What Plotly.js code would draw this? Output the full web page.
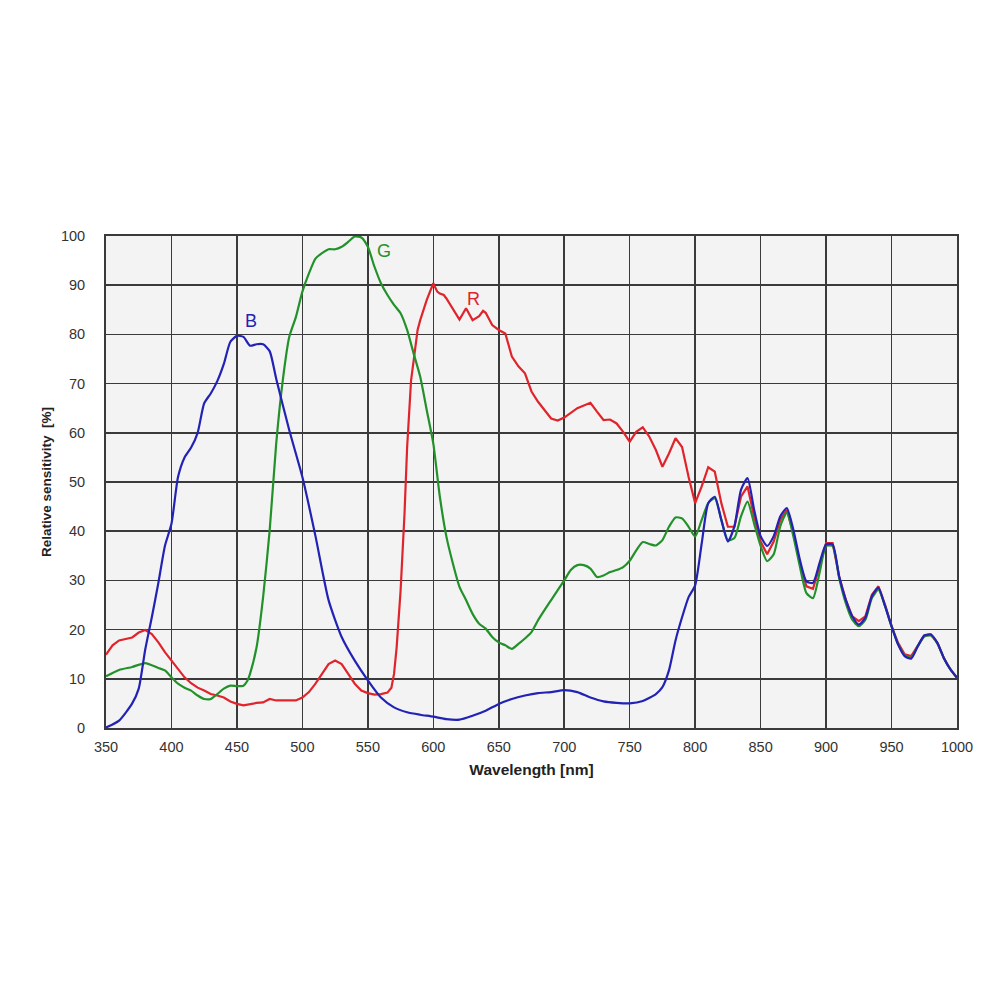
<!DOCTYPE html>
<html>
<head>
<meta charset="utf-8">
<script src="https://cdn.plot.ly/plotly-3.0.1.min.js"></script>
<style>
html, body { margin: 0; padding: 0; background: #ffffff; }
#chart { width: 1000px; height: 1000px; }
</style>
</head>
<body>
<div id="chart"></div>
<script>
// blue channel
var blueNm = [350, 360, 370, 375, 380, 385, 390, 395, 400, 405, 410, 415, 420, 425, 430, 435, 440, 445, 450, 455, 460, 465, 470, 475, 480, 490, 500, 510, 520, 530, 540, 550, 560, 570, 580, 590, 600, 610, 620, 630, 640, 650, 660, 670, 680, 690, 700, 710, 720, 730, 740, 750, 760, 770, 775, 780, 785, 790, 795, 800, 805, 810, 815, 820, 825, 830, 835, 840, 845, 850, 855, 860, 865, 870, 875, 880, 885, 890, 895, 900, 905, 910, 915, 920, 925, 930, 935, 940, 945, 950, 955, 960, 965, 970, 975, 980, 985, 990, 995, 1000];
var blueVal = [0.1, 1.5, 5, 8, 16, 22.5, 29.5, 37, 41.5, 51, 55, 57, 60, 66, 68, 70.5, 74, 78.5, 79.7, 79.5, 77.7, 78, 78, 76.6, 71, 60.5, 51, 39, 26, 18.5, 13.7, 9.7, 6.2, 4.2, 3.2, 2.7, 2.3, 1.8, 1.7, 2.5, 3.5, 4.9, 5.9, 6.6, 7.1, 7.3, 7.7, 7.3, 6.2, 5.4, 5.1, 5, 5.5, 6.9, 8.3, 11.7, 17.8, 22.5, 26.6, 29, 37.5, 45.7, 47, 42.3, 37.9, 41, 48.4, 50.8, 44.4, 39, 37, 39, 43, 44.7, 40.3, 34.2, 29.8, 29.5, 33.5, 37.3, 37.3, 30.8, 26.1, 22.7, 21, 22.4, 26.8, 28.5, 24.8, 20.7, 17, 14.6, 14.1, 16.6, 18.8, 19, 17.3, 14.2, 11.9, 10.2];

// green channel
var greenNm = [350, 360, 370, 380, 390, 395, 400, 405, 410, 415, 420, 425, 430, 435, 440, 445, 450, 455, 458, 460, 465, 470, 475, 480, 485, 490, 495, 500, 505, 510, 515, 520, 525, 530, 535, 540, 545, 550, 555, 560, 565, 570, 575, 580, 585, 590, 595, 600, 605, 610, 615, 620, 625, 630, 635, 640, 645, 650, 655, 660, 665, 670, 675, 680, 690, 700, 705, 710, 715, 720, 725, 730, 735, 740, 745, 750, 755, 760, 765, 770, 775, 780, 785, 790, 795, 800, 805, 810, 815, 820, 825, 830, 835, 840, 845, 850, 855, 860, 865, 870, 875, 880, 885, 890, 895, 900, 905, 910, 915, 920, 925, 930, 935, 940, 945, 950, 955, 960, 965, 970, 975, 980, 985, 990, 995, 1000];
var greenVal = [10.5, 11.8, 12.4, 13.2, 12.2, 11.7, 10.3, 9, 8.2, 7.6, 6.6, 5.9, 5.9, 6.9, 8, 8.6, 8.5, 8.6, 9.6, 11, 16.4, 26.6, 40.1, 57.8, 70.6, 79.5, 83.5, 88.7, 92.4, 95.4, 96.5, 97.3, 97.3, 97.8, 98.8, 99.9, 99.7, 97.8, 93.8, 90.4, 88, 86, 84.3, 80.9, 76.1, 71.4, 64.6, 57.8, 47, 38.9, 33.4, 28.7, 26, 23.2, 21.2, 20.2, 18.5, 17.4, 16.8, 16.1, 17.1, 18.2, 19.5, 21.9, 26, 30, 32.1, 33.1, 33.1, 32.4, 30.7, 31, 31.7, 32.1, 32.7, 34, 36.1, 37.8, 37.4, 37.1, 38.2, 40.9, 42.8, 42.6, 40.9, 38.9, 42.3, 45.7, 46.7, 42.3, 38.2, 38.6, 43, 46, 41.6, 37, 33.9, 35.3, 41, 43.8, 39, 32.8, 27.4, 26.4, 31.5, 37, 37, 30.5, 25.4, 22, 20.7, 22, 26.4, 28.1, 24.8, 20.7, 17, 14.8, 14.3, 16.6, 18.6, 18.8, 17.2, 14.2, 11.9, 10.2];

// red channel
var redNm = [350, 355, 360, 365, 370, 375, 380, 385, 390, 395, 400, 405, 410, 415, 420, 425, 430, 435, 440, 445, 450, 455, 460, 465, 470, 475, 480, 490, 495, 500, 505, 510, 515, 520, 525, 530, 535, 540, 545, 550, 555, 560, 565, 568, 570, 572, 575, 578, 580, 583, 585, 588, 590, 595, 600, 603, 605, 608, 610, 615, 620, 625, 630, 635, 638, 640, 645, 650, 655, 660, 665, 670, 675, 680, 685, 690, 695, 700, 710, 720, 725, 730, 735, 740, 745, 750, 755, 760, 765, 770, 775, 780, 785, 790, 795, 800, 805, 810, 815, 820, 825, 830, 835, 840, 845, 850, 855, 860, 865, 870, 875, 880, 885, 890, 895, 900, 905, 910, 915, 920, 925, 930, 935, 940, 945, 950, 955, 960, 965, 970, 975, 980, 985, 990, 995, 1000];
var redVal = [14.9, 16.8, 17.8, 18.1, 18.4, 19.4, 19.9, 19.1, 17.4, 15.4, 13.7, 12, 10.3, 9.1, 8.2, 7.6, 6.9, 6.6, 6.2, 5.4, 4.9, 4.6, 4.9, 5.1, 5.2, 5.9, 5.6, 5.6, 5.6, 6.2, 7.3, 9, 11, 13, 13.7, 13, 11, 9, 7.6, 7.1, 6.8, 6.9, 7.2, 8.2, 11, 16.4, 27.9, 43.5, 57, 70.6, 74.7, 80.9, 82.9, 87, 90.4, 88.7, 88.3, 88, 87.3, 85, 83, 85.3, 82.9, 83.7, 84.8, 84.4, 81.9, 80.9, 80.2, 75.5, 73.5, 72.1, 68.4, 66.3, 64.6, 62.9, 62.5, 63.1, 65, 66.1, 64.3, 62.6, 62.7, 61.9, 60.2, 58.2, 60.2, 61.1, 59.2, 56.5, 53.1, 55.8, 58.9, 57.1, 51, 45.7, 49.1, 53, 52.1, 45.7, 40.9, 40.9, 47, 49.1, 43, 37.9, 35.3, 37.9, 42.3, 44.3, 39.6, 33.5, 28.8, 28.3, 32.8, 37.6, 37.6, 30.8, 26.1, 22.7, 21.7, 22.7, 27.1, 28.8, 25.1, 20.7, 17.3, 15, 14.6, 16.6, 18.8, 19, 17.3, 14.2, 11.9, 10.2];

// curve labels
var labelText = ['B', 'G', 'R'];
var labelX = [461, 562, 631];
var labelY = [82.7, 97, 87.2];
var labelColor = ['#2222b4', '#23912a', '#e0242c'];

var xTicks = [350, 400, 450, 500, 550, 600, 650, 700, 750, 800, 850, 900, 950, 1000];
var yTicks = [0, 10, 20, 30, 40, 50, 60, 70, 80, 90, 100];

var traces = [
	{
		x: redNm, y: redVal, type: 'scatter', mode: 'lines', name: 'R',
		line: {color: '#e0242c', width: 2.2}
	},
	{
		x: greenNm, y: greenVal, type: 'scatter', mode: 'lines', name: 'G',
		line: {color: '#23912a', width: 2.2, shape: 'spline', smoothing: 0.6}
	},
	{
		x: blueNm, y: blueVal, type: 'scatter', mode: 'lines', name: 'B',
		line: {color: '#2222b4', width: 2.2, shape: 'spline', smoothing: 0.6}
	}
];

var annotations = labelText.map(function(t, i) {
	return {
		x: labelX[i], y: labelY[i], xref: 'x', yref: 'y', text: t,
		showarrow: false, font: {family: 'Liberation Sans, Arial, sans-serif', size: 18, color: labelColor[i]}
	};
});

var layout = {
	width: 1000,
	height: 1000,
	showlegend: false,
	paper_bgcolor: '#ffffff',
	plot_bgcolor: '#f3f3f3',
	margin: {l: 106, r: 43, t: 236, b: 272, pad: 0},
	font: {family: 'Liberation Sans, Arial, sans-serif', size: 14, color: '#333333'},
	xaxis: {
		range: [350, 1000],
		tickvals: xTicks,
		ticktext: xTicks.map(String),
		showgrid: true,
		gridcolor: '#3a3a3a',
		gridwidth: 1.5,
		zeroline: false,
		showline: true,
		linecolor: '#3a3a3a',
		linewidth: 2,
		mirror: true,
		ticks: '',
		ticklabelstandoff: 5,
		tickfont: {size: 14.5, color: '#333333'},
		title: {text: '<b>Wavelength [nm]</b>', font: {size: 15.5, color: '#222222'}, standoff: 10}
	},
	yaxis: {
		range: [0, 100],
		tickvals: yTicks,
		ticktext: yTicks.map(String),
		showgrid: true,
		gridcolor: '#3a3a3a',
		gridwidth: 1.5,
		zeroline: false,
		showline: true,
		linecolor: '#3a3a3a',
		linewidth: 2,
		mirror: true,
		ticks: '',
		ticklabelstandoff: 16,
		tickfont: {size: 14.5, color: '#333333'},
		title: {text: '<b>Relative sensitivity  [%]</b>', font: {size: 13.5, color: '#222222'}, standoff: 6}
	},
	annotations: annotations
};

Plotly.newPlot('chart', traces, layout, {displayModeBar: false, staticPlot: true});
</script>
</body>
</html>
